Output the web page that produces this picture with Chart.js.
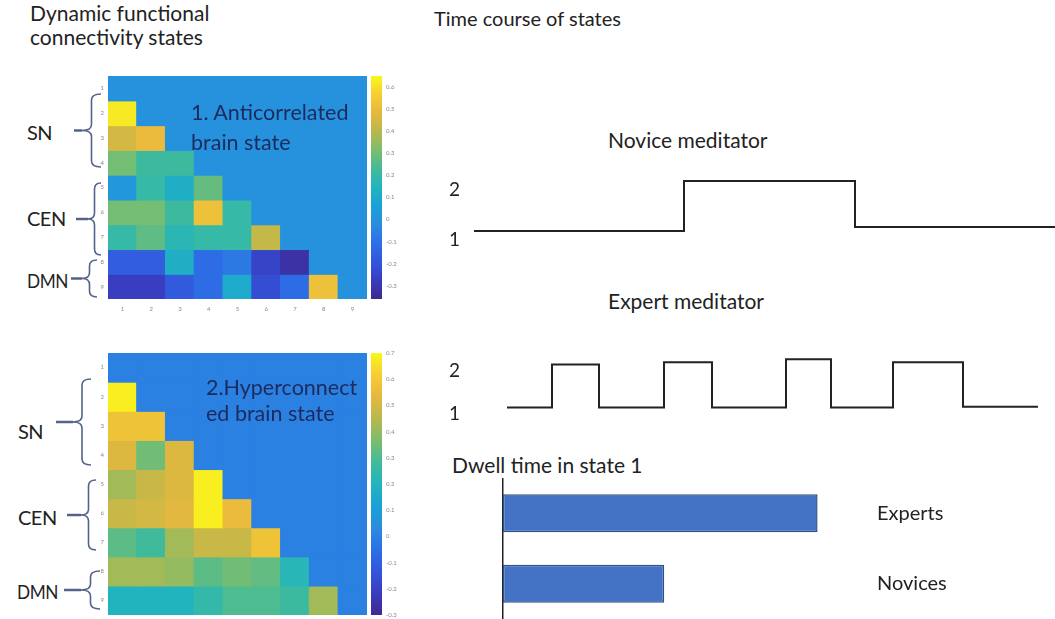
<!DOCTYPE html>
<html>
<head>
<meta charset="utf-8">
<script src="https://cdn.jsdelivr.net/npm/chart.js@4.4.1/dist/chart.umd.min.js"></script>
<style>
  body { margin: 0; background: #fff; }
  #page { position: relative; width: 1055px; height: 619px; overflow: hidden; font-family: Lato, 'Open Sans', sans-serif; color: #222; }
  .t { position: absolute; white-space: nowrap; }
  .net { font-size: 20px; line-height: 24px; letter-spacing: -0.5px; }
  .narrow { transform: scaleX(0.86); transform-origin: left center; }
  canvas { position: absolute; }
  svg { position: absolute; left: 0; top: 0; }
</style>
</head>
<body>
<div id="page">
  <div class="t" style="left:30px;top:1px;font-size:21px;line-height:24px">Dynamic functional<br>connectivity states</div>
  <div class="t" style="left:434px;top:6px;font-size:20px;line-height:24px">Time course of states</div>
  <div class="t" style="left:608px;top:128px;font-size:21px;line-height:24px">Novice meditator</div>
  <div class="t" style="left:608px;top:289px;font-size:21px;line-height:24px">Expert meditator</div>
  <div class="t" style="left:452px;top:453px;font-size:21px;line-height:24px">Dwell time in state 1</div>

  <div class="t net" style="left:27px;top:120px">SN</div>
  <div class="t net" style="left:27px;top:206px">CEN</div>
  <div class="t net narrow" style="left:27px;top:268px">DMN</div>
  <div class="t net" style="left:18px;top:419px">SN</div>
  <div class="t net" style="left:18px;top:505px">CEN</div>
  <div class="t net narrow" style="left:17px;top:579px">DMN</div>

  <canvas id="heat1" width="273" height="237" style="left:94px;top:76px"></canvas>
  <canvas id="bar1" width="33" height="231" style="left:371px;top:72px"></canvas>
  <canvas id="heat2" width="273" height="276" style="left:94px;top:353px"></canvas>
  <canvas id="bar2" width="33" height="270" style="left:371px;top:349px"></canvas>

  <div class="t" style="left:191px;top:97px;font-size:21.5px;line-height:30px;color:#1c2a5c">1. Anticorrelated<br>brain state</div>
  <div class="t" style="left:206px;top:374px;font-size:21.5px;line-height:26px;color:#1c2a5c">2.Hyperconnect<br>ed brain state</div>

  <canvas id="novice" width="615" height="100" style="left:440px;top:156px"></canvas>
  <canvas id="expert" width="615" height="86" style="left:440px;top:343px"></canvas>
  <canvas id="dwell" width="454" height="141" style="left:493px;top:478px"></canvas>

  <svg id="braces" width="120" height="619"></svg>
</div>
<script>
// heatmap axes
const colLabels = ['1', '2', '3', '4', '5', '6', '7', '8', '9'];
const rowLabels = ['1', '2', '3', '4', '5', '6', '7', '8', '9'];

// lower triangle of each connectivity matrix (row i holds columns 1..i-1)
const anticorrRows = [
  [],
  [0.62],
  [0.45, 0.5],
  [0.3, 0.22, 0.22],
  [0.02, 0.2, 0.12, 0.28],
  [0.3, 0.3, 0.22, 0.52, 0.2],
  [0.2, 0.27, 0.17, 0.2, 0.2, 0.42],
  [-0.17, -0.17, 0.12, -0.12, -0.08, -0.25, -0.32],
  [-0.27, -0.27, -0.18, -0.12, 0.1, -0.22, -0.12, 0.52]
];
const hyperRows = [
  [],
  [0.68],
  [0.58, 0.58],
  [0.52, 0.35, 0.52],
  [0.42, 0.48, 0.52, 0.68],
  [0.48, 0.5, 0.53, 0.68, 0.55],
  [0.32, 0.28, 0.42, 0.48, 0.48, 0.58],
  [0.42, 0.42, 0.4, 0.32, 0.35, 0.33, 0.22],
  [0.2, 0.2, 0.2, 0.25, 0.3, 0.3, 0.27, 0.42]
];

// colour bar ranges and ticks
const range1 = [-0.36, 0.65];
const cbTicks1 = [-0.3, -0.2, -0.1, 0, 0.1, 0.2, 0.3, 0.4, 0.5, 0.6];
const range2 = [-0.3, 0.7];
const cbTicks2 = [-0.3, -0.2, -0.1, 0, 0.1, 0.2, 0.3, 0.4, 0.5, 0.6, 0.7];

// time course of states
const stateTicks = [1, 2];
const noviceTimes = [0.8, 42.8, 77, 117];
const noviceStates = [1, 2, 1.08, 1.08];
const expertTimes = [7.4, 16.4, 25.8, 38.8, 48.4, 63.2, 72.2, 84.6, 98.6, 113.6];
const expertStates = [1, 2, 1, 2.05, 1, 2.12, 1, 2.05, 1.02, 1.02];

// dwell time in state 1
const groups = ['Experts', 'Novices'];
const dwellTime = [6.05, 3.1];

Chart.defaults.font.family = 'Lato, "Open Sans", sans-serif';
Chart.defaults.color = '#222';
Chart.defaults.animation = false;

// parula-like colour map
const cmapStops = [
  [0.00, '#3e2a8f'], [0.08, '#3a3bbd'], [0.16, '#3354db'], [0.25, '#2c70e6'],
  [0.33, '#2b8be0'], [0.42, '#1aa2d6'], [0.50, '#22b4be'], [0.58, '#3fbb9c'],
  [0.66, '#78bd70'], [0.75, '#b8b84c'], [0.84, '#e8b83e'], [0.92, '#f6cf32'],
  [1.00, '#f8f81a']
];
function hexRgb(h) {
  return [parseInt(h.slice(1, 3), 16), parseInt(h.slice(3, 5), 16), parseInt(h.slice(5, 7), 16)];
}
function cmap(t) {
  t = Math.max(0, Math.min(1, t));
  for (let i = 1; i < cmapStops.length; i++) {
    if (t <= cmapStops[i][0]) {
      const [t0, c0] = cmapStops[i - 1], [t1, c1] = cmapStops[i];
      const f = (t - t0) / (t1 - t0);
      const a = hexRgb(c0), b = hexRgb(c1);
      return 'rgb(' + a.map((v, k) => Math.round(v + (b[k] - v) * f)).join(',') + ')';
    }
  }
  return cmapStops[cmapStops.length - 1][1];
}

// keep axis labels from shrinking the plot area
function noPad(s) { s.paddingTop = 0; s.paddingBottom = 0; s.paddingLeft = 0; s.paddingRight = 0; }

const smallTicks = { font: { size: 6 }, color: '#888', padding: 2 };
const noGrid = { display: false, drawTicks: false };

function heatmap(id, rows, range) {
  const norm = v => (v - range[0]) / (range[1] - range[0]);
  new Chart(document.getElementById(id), {
    type: 'bar',
    data: {
      labels: colLabels,
      datasets: rowLabels.map((lab, r) => ({
        label: 'row ' + lab,
        data: colLabels.map(() => [r, r + 1]),
        backgroundColor: colLabels.map((_, c) => cmap(norm(c < r ? rows[r][c] : 0))),
        borderWidth: 0,
        inflateAmount: 0.6,
        yAxisID: 'y'
      }))
    },
    options: {
      responsive: false,
      grouped: false,
      barPercentage: 1,
      categoryPercentage: 1,
      plugins: { legend: { display: false }, tooltip: { enabled: false } },
      layout: { padding: 0 },
      scales: {
        x: {
          grid: noGrid, border: { display: false },
          ticks: Object.assign({}, smallTicks, { padding: 6 }),
          afterFit: s => { noPad(s); s.height = 14; }
        },
        y: { display: false, min: 0, max: 9, reverse: true },
        yl: {
          type: 'category', labels: rowLabels, position: 'left', offset: true,
          grid: noGrid, border: { display: false },
          ticks: Object.assign({}, smallTicks, { padding: 4 }),
          afterFit: s => { noPad(s); s.width = 14; }
        }
      }
    }
  });
}

function colorbar(id, range, ticks) {
  new Chart(document.getElementById(id), {
    type: 'bar',
    data: {
      labels: ['scale'],
      datasets: [{
        data: [range],
        borderWidth: 0,
        backgroundColor: ctx => {
          const area = ctx.chart.chartArea;
          if (!area) return null;
          const g = ctx.chart.ctx.createLinearGradient(0, area.bottom, 0, area.top);
          cmapStops.forEach(([t, c]) => g.addColorStop(t, c));
          return g;
        }
      }]
    },
    options: {
      responsive: false,
      barPercentage: 1,
      categoryPercentage: 1,
      plugins: { legend: { display: false }, tooltip: { enabled: false } },
      layout: { padding: { top: 4, bottom: 4 } },
      scales: {
        x: { display: false },
        y: {
          position: 'right', min: range[0], max: range[1],
          grid: noGrid, border: { display: false },
          afterBuildTicks: s => { s.ticks = ticks.map(v => ({ value: v })); },
          ticks: Object.assign({}, smallTicks, { padding: 4, callback: v => String(Math.round(v * 10) / 10) }),
          afterFit: s => { noPad(s); s.width = 22; }
        }
      }
    }
  });
}

function timeCourse(id, times, states, labelShift) {
  new Chart(document.getElementById(id), {
    type: 'line',
    data: {
      datasets: [{
        data: times.map((t, i) => ({ x: t, y: states[i] })),
        stepped: 'before',
        borderColor: '#222',
        borderWidth: 2,
        pointRadius: 0,
        fill: false
      }]
    },
    options: {
      responsive: false,
      plugins: { legend: { display: false }, tooltip: { enabled: false } },
      layout: { padding: 0 },
      scales: {
        x: { type: 'linear', display: false, min: 0, max: 117 },
        y: {
          min: 0.5, max: 2.5,
          grid: noGrid, border: { display: false },
          afterBuildTicks: s => { s.ticks = stateTicks.map(v => ({ value: v })); },
          ticks: { font: { size: 19 }, color: '#222', padding: 10, labelOffset: labelShift },
          afterFit: s => { noPad(s); s.width = 30; }
        }
      }
    }
  });
}

heatmap('heat1', anticorrRows, range1);
heatmap('heat2', hyperRows, range2);
colorbar('bar1', range1, cbTicks1);
colorbar('bar2', range2, cbTicks2);
timeCourse('novice', noviceTimes, noviceStates, 9);
timeCourse('expert', expertTimes, expertStates, 6);

new Chart(document.getElementById('dwell'), {
  type: 'bar',
  data: {
    labels: groups,
    datasets: [{
      data: dwellTime,
      backgroundColor: '#4472c4',
      borderColor: '#2f528f',
      borderWidth: 1.5,
      borderSkipped: false,
      barPercentage: 0.54,
      categoryPercentage: 1
    }]
  },
  options: {
    indexAxis: 'y',
    responsive: false,
    plugins: { legend: { display: false }, tooltip: { enabled: false } },
    layout: { padding: { left: 10 } },
    scales: {
      x: { display: false, min: 0, max: 7 },
      y: {
        position: 'left',
        grid: noGrid,
        border: { display: true, color: '#222', width: 1.5 },
        ticks: { display: false },
        afterFit: s => { noPad(s); s.width = 0; }
      },
      y2: {
        type: 'category', position: 'right', offset: true,
        grid: noGrid, border: { display: false },
        ticks: { font: { size: 20 }, color: '#222', padding: 10 },
        afterFit: s => { noPad(s); s.width = 80; }
      }
    }
  }
});

// curly braces beside the network labels
const braceSpecs = [
  { tip: 82, right: 101, top: 94, bottom: 167, dash: 74 },
  { tip: 88, right: 101, top: 183, bottom: 255, dash: 76 },
  { tip: 82, right: 97, top: 260, bottom: 297, dash: 71 },
  { tip: 73, right: 91, top: 379, bottom: 465, dash: 56 },
  { tip: 81, right: 96, top: 480, bottom: 550, dash: 67 },
  { tip: 81, right: 100, top: 571, bottom: 609, dash: 64 }
];
const svg = document.getElementById('braces');
braceSpecs.forEach(b => {
  const mid = (b.top + b.bottom) / 2, xm = (b.tip + b.right) / 2;
  const d = `M${b.right},${b.top} Q${xm},${b.top} ${xm},${b.top + 6} L${xm},${mid - 6} ` +
    `Q${xm},${mid} ${b.tip},${mid} Q${xm},${mid} ${xm},${mid + 6} L${xm},${b.bottom - 6} ` +
    `Q${xm},${b.bottom} ${b.right},${b.bottom}`;
  svg.insertAdjacentHTML('beforeend',
    `<path d="${d}" fill="none" stroke="#55638a" stroke-width="1.6"/>` +
    `<line x1="${b.dash}" y1="${mid}" x2="${b.tip}" y2="${mid}" stroke="#55638a" stroke-width="2.5"/>`);
});
</script>
</body>
</html>
